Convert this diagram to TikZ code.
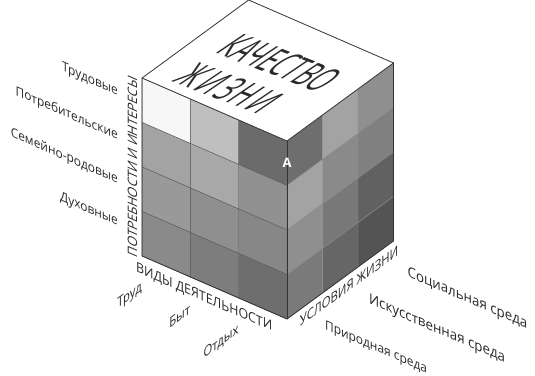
\documentclass[tikz,border=0pt]{standalone}
\usepackage{fontspec}
\setmainfont{Open Sans}
\usepackage{tikz}
\usetikzlibrary{positioning}
\definecolor{edgegray}{HTML}{333333}
\definecolor{gridgray}{HTML}{5A5A5A}
\definecolor{textgray}{HTML}{2A2A2A}

\begin{document}
\begin{tikzpicture}[
        x={(-48.3pt,21pt)},y={(35.5pt,26pt)},z={(0pt,44.5pt)},
        cell/.style={draw=gridgray,line width=0.4pt},
        rcell/.style={draw=black!45,line width=0.4pt},
        cubeedge/.style={draw=edgegray,line width=0.8pt,line join=round},
        lbl/.style={font=\fontsize{13}{15}\selectfont,text=textgray,inner sep=0pt},
        xzlbl/.style={lbl,cm={0.917,-0.398,0,1,(0,0)}},
        ylbl/.style={lbl,cm={0.807,0.591,0,1,(0,0)}},
        vlbl/.style={lbl,font=\fontsize{13}{14}\selectfont,cm={0,1,-1,0.436,(0,0)}},
        toptext/.style={font=\fontsize{19}{20.5}\selectfont,text=textgray,align=left,inner sep=0pt}]
  \useasboundingbox (-287pt,-56pt) rectangle ++(535pt,375pt);
  % left face
  \filldraw[cell,fill=black!3]  (2,0,3) -- ++(1,0,0) -- ++(0,0,1) -- ++(-1,0,0) -- cycle;
  \filldraw[cell,fill=black!25] (1,0,3) -- ++(1,0,0) -- ++(0,0,1) -- ++(-1,0,0) -- cycle;
  \filldraw[cell,fill=black!58] (0,0,3) -- ++(1,0,0) -- ++(0,0,1) -- ++(-1,0,0) -- cycle;
  \filldraw[cell,fill=black!36] (2,0,2) -- ++(1,0,0) -- ++(0,0,1) -- ++(-1,0,0) -- cycle;
  \filldraw[cell,fill=black!34] (1,0,2) -- ++(1,0,0) -- ++(0,0,1) -- ++(-1,0,0) -- cycle;
  \filldraw[cell,fill=black!43] (0,0,2) -- ++(1,0,0) -- ++(0,0,1) -- ++(-1,0,0) -- cycle;
  \filldraw[cell,fill=black!40] (2,0,1) -- ++(1,0,0) -- ++(0,0,1) -- ++(-1,0,0) -- cycle;
  \filldraw[cell,fill=black!44] (1,0,1) -- ++(1,0,0) -- ++(0,0,1) -- ++(-1,0,0) -- cycle;
  \filldraw[cell,fill=black!47] (0,0,1) -- ++(1,0,0) -- ++(0,0,1) -- ++(-1,0,0) -- cycle;
  \filldraw[cell,fill=black!46] (2,0,0) -- ++(1,0,0) -- ++(0,0,1) -- ++(-1,0,0) -- cycle;
  \filldraw[cell,fill=black!51] (1,0,0) -- ++(1,0,0) -- ++(0,0,1) -- ++(-1,0,0) -- cycle;
  \filldraw[cell,fill=black!57] (0,0,0) -- ++(1,0,0) -- ++(0,0,1) -- ++(-1,0,0) -- cycle;
  % right face
  \filldraw[rcell,fill=black!57] (0,0,3) -- ++(0,1,0) -- ++(0,0,1) -- ++(0,-1,0) -- cycle;
  \filldraw[rcell,fill=black!36] (0,1,3) -- ++(0,1,0) -- ++(0,0,1) -- ++(0,-1,0) -- cycle;
  \filldraw[rcell,fill=black!44] (0,2,3) -- ++(0,1,0) -- ++(0,0,1) -- ++(0,-1,0) -- cycle;
  \filldraw[rcell,fill=black!36] (0,0,2) -- ++(0,1,0) -- ++(0,0,1) -- ++(0,-1,0) -- cycle;
  \filldraw[rcell,fill=black!46] (0,1,2) -- ++(0,1,0) -- ++(0,0,1) -- ++(0,-1,0) -- cycle;
  \filldraw[rcell,fill=black!50] (0,2,2) -- ++(0,1,0) -- ++(0,0,1) -- ++(0,-1,0) -- cycle;
  \filldraw[rcell,fill=black!44] (0,0,1) -- ++(0,1,0) -- ++(0,0,1) -- ++(0,-1,0) -- cycle;
  \filldraw[rcell,fill=black!53] (0,1,1) -- ++(0,1,0) -- ++(0,0,1) -- ++(0,-1,0) -- cycle;
  \filldraw[rcell,fill=black!62] (0,2,1) -- ++(0,1,0) -- ++(0,0,1) -- ++(0,-1,0) -- cycle;
  \filldraw[rcell,fill=black!52] (0,0,0) -- ++(0,1,0) -- ++(0,0,1) -- ++(0,-1,0) -- cycle;
  \filldraw[rcell,fill=black!60] (0,1,0) -- ++(0,1,0) -- ++(0,0,1) -- ++(0,-1,0) -- cycle;
  \filldraw[rcell,fill=black!67] (0,2,0) -- ++(0,1,0) -- ++(0,0,1) -- ++(0,-1,0) -- cycle;
  % top face and outline
  \filldraw[cubeedge,fill=white] (0,0,4) -- (3,0,4) -- (3,3,4) -- (0,3,4) -- cycle;
  \draw[cubeedge] (3,0,4) -- (3,0,0) -- (0,0,0) -- (0,3,0) -- (0,3,4);
  \draw[cubeedge] (0,0,0) -- (0,0,4);
  \node[font=\bfseries\fontsize{13}{13}\selectfont,text=white] (cellA) at (0,0,3.5) {A};
  \begin{scope}[shift={(1.5,1.24,4)},cm={1.074,-0.412,2.07,1.40,(0,0)}]
    \node[toptext,transform shape] (quality) {КАЧЕСТВО\\{\addfontfeature{LetterSpace=14}ЖИЗНИ}};
  \end{scope}
  % needs
  \node[xzlbl,anchor=base east] (work)   at (3.5,0,3.38) {Трудовые};
  \node[xzlbl,anchor=base east] (consum) at (3.5,0,2.38) {Потребительские};
  \node[xzlbl,anchor=base east] (family) at (3.5,0,1.40) {Семейно-родовые};
  \node[xzlbl,anchor=base east] (spirit) at (3.5,0,0.44) {Духовные};
  \node[vlbl] (needs) at (3.2,0,1.92) {ПОТРЕБНОСТИ И ИНТЕРЕСЫ};
  % activities
  \node[xzlbl,font=\fontsize{13.5}{15}\selectfont] (activ) at (1.45,-0.36,0) {ВИДЫ ДЕЯТЕЛЬНОСТИ};
  \node[ylbl,font=\fontsize{14}{15}\selectfont,anchor=east] (labour) at (2.45,-0.75,0) {Труд};
  \node[ylbl,font=\fontsize{14}{15}\selectfont,anchor=east] (life)   at (1.45,-0.75,0) {Быт};
  \node[ylbl,font=\fontsize{14}{15}\selectfont,anchor=east] (rest)   at (0.45,-0.75,0) {Отдых};
  % conditions
  \node[ylbl,font=\fontsize{14}{15}\selectfont] (cond) at (-0.22,1.45,0) {УСЛОВИЯ ЖИЗНИ};
  \node[xzlbl,font=\fontsize{14.5}{15}\selectfont,anchor=north west] (social)  at (-0.62,2.55,0) {Социальная среда};
  \node[xzlbl,font=\fontsize{14.5}{15}\selectfont,anchor=north west] (artif)   at (-0.60,1.49,0) {Искусственная среда};
  \node[xzlbl,font=\fontsize{13}{15}\selectfont,anchor=north west] (natural) at (-0.66,0.17,0.2) {Природная среда};
\end{tikzpicture}
\end{document}
